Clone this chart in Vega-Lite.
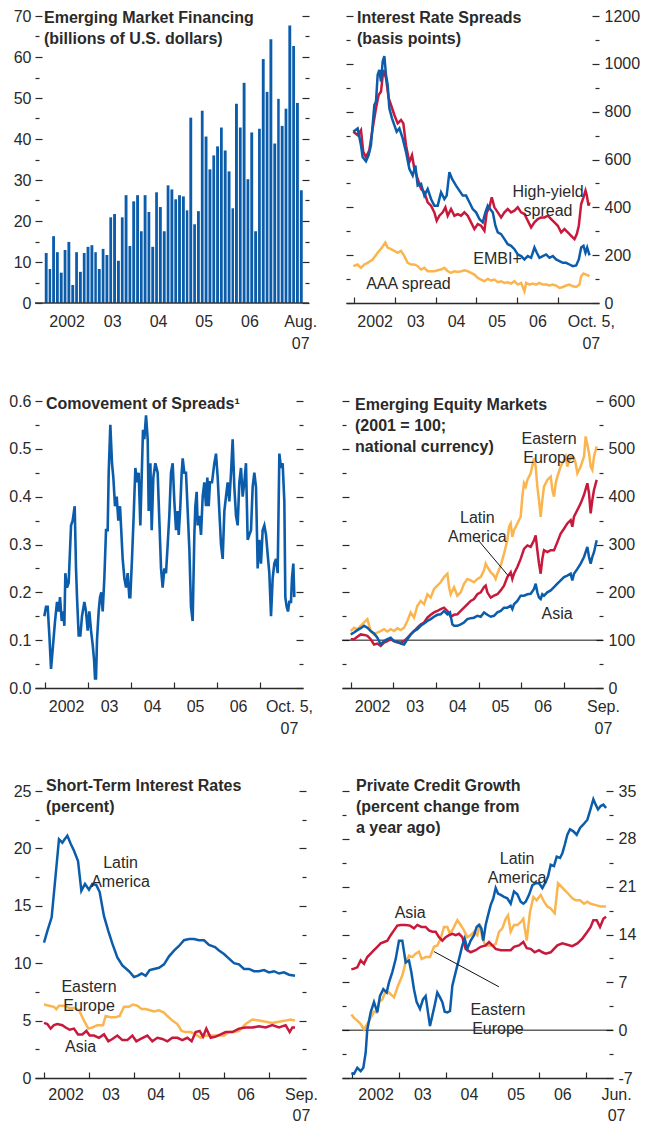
{
"$schema":"https://vega.github.io/schema/vega-lite/v6.json",
"padding":{"left":8,"top":8,"right":4,"bottom":0},
"config":{
 "view":{"stroke":null},
 "axis":{"labelFont":"Liberation Sans","labelFontSize":16,"labelColor":"#2a2a2a","tickColor":"#2a2a2a","tickWidth":1.2,"domainColor":"#2a2a2a","domainWidth":1.3,"grid":false,"labelFlush":false,"labelOverlap":false,"labelBound":false,"labelLineHeight":22},
 "title":{"font":"Liberation Sans","fontSize":16,"fontWeight":"bold","color":"#2a2a2a","anchor":"start","frame":"group","baseline":"top","offset":0,"lineHeight":21},
 "text":{"font":"Liberation Sans","fontSize":16,"color":"#2a2a2a","lineBreak":"\n","lineHeight":19}
},
"datasets":{
 "p1":[
 {"d":"2002-01-01","v":12.2},{"d":"2002-02-01","v":8.3},{"d":"2002-03-01","v":16.3},{"d":"2002-04-01","v":12.4},{"d":"2002-05-01","v":7.4},{"d":"2002-06-01","v":12.9},{"d":"2002-07-01","v":14.9},{"d":"2002-08-01","v":4.4},{"d":"2002-09-01","v":12.4},{"d":"2002-10-01","v":7.6},{"d":"2002-11-01","v":12.2},{"d":"2002-12-01","v":13.7},
 {"d":"2003-01-01","v":14.1},{"d":"2003-02-01","v":12.4},{"d":"2003-03-01","v":8.3},{"d":"2003-04-01","v":13.2},{"d":"2003-05-01","v":11.7},{"d":"2003-06-01","v":20.9},{"d":"2003-07-01","v":21.7},{"d":"2003-08-01","v":10.3},{"d":"2003-09-01","v":20.9},{"d":"2003-10-01","v":26.3},{"d":"2003-11-01","v":13.9},{"d":"2003-12-01","v":24.8},
 {"d":"2004-01-01","v":26.3},{"d":"2004-02-01","v":17.5},{"d":"2004-03-01","v":26.3},{"d":"2004-04-01","v":22.2},{"d":"2004-05-01","v":13.7},{"d":"2004-06-01","v":27.0},{"d":"2004-07-01","v":23.4},{"d":"2004-08-01","v":17.5},{"d":"2004-09-01","v":28.7},{"d":"2004-10-01","v":27.7},{"d":"2004-11-01","v":25.3},{"d":"2004-12-01","v":26.3},
 {"d":"2005-01-01","v":26.0},{"d":"2005-02-01","v":22.6},{"d":"2005-03-01","v":45.2},{"d":"2005-04-01","v":19.2},{"d":"2005-05-01","v":22.4},{"d":"2005-06-01","v":46.9},{"d":"2005-07-01","v":40.6},{"d":"2005-08-01","v":32.6},{"d":"2005-09-01","v":36.0},{"d":"2005-10-01","v":38.2},{"d":"2005-11-01","v":42.8},{"d":"2005-12-01","v":37.2},
 {"d":"2006-01-01","v":32.1},{"d":"2006-02-01","v":23.1},{"d":"2006-03-01","v":48.6},{"d":"2006-04-01","v":42.8},{"d":"2006-05-01","v":53.7},{"d":"2006-06-01","v":30.2},{"d":"2006-07-01","v":41.6},{"d":"2006-08-01","v":17.5},{"d":"2006-09-01","v":42.5},{"d":"2006-10-01","v":59.5},{"d":"2006-11-01","v":51.5},{"d":"2006-12-01","v":64.3},
 {"d":"2007-01-01","v":38.9},{"d":"2007-02-01","v":49.8},{"d":"2007-03-01","v":43.2},{"d":"2007-04-01","v":47.4},{"d":"2007-05-01","v":67.7},{"d":"2007-06-01","v":62.7},{"d":"2007-07-01","v":48.8},{"d":"2007-08-01","v":27.5}
 ],
 "p2":[
 {"s":"AAA","x":2001.975,"v":154},{"s":"AAA","x":2002.082,"v":161},{"s":"AAA","x":2002.164,"v":147},{"s":"AAA","x":2002.246,"v":161},{"s":"AAA","x":2002.328,"v":168},{"s":"AAA","x":2002.451,"v":182},{"s":"AAA","x":2002.574,"v":210},{"s":"AAA","x":2002.68,"v":232},{"s":"AAA","x":2002.762,"v":253},{"s":"AAA","x":2002.82,"v":232},{"s":"AAA","x":2002.902,"v":225},{"s":"AAA","x":2002.984,"v":218},{"s":"AAA","x":2003.066,"v":210},{"s":"AAA","x":2003.148,"v":218},{"s":"AAA","x":2003.23,"v":196},{"s":"AAA","x":2003.311,"v":168},{"s":"AAA","x":2003.393,"v":161},{"s":"AAA","x":2003.475,"v":161},{"s":"AAA","x":2003.557,"v":154},{"s":"AAA","x":2003.639,"v":140},{"s":"AAA","x":2003.721,"v":147},{"s":"AAA","x":2003.803,"v":133},{"s":"AAA","x":2003.885,"v":133},{"s":"AAA","x":2003.967,"v":133},{"s":"AAA","x":2004.049,"v":137},{"s":"AAA","x":2004.131,"v":140},{"s":"AAA","x":2004.213,"v":147},{"s":"AAA","x":2004.295,"v":133},{"s":"AAA","x":2004.377,"v":126},{"s":"AAA","x":2004.459,"v":133},{"s":"AAA","x":2004.541,"v":130},{"s":"AAA","x":2004.623,"v":133},{"s":"AAA","x":2004.705,"v":137},{"s":"AAA","x":2004.787,"v":133},{"s":"AAA","x":2004.869,"v":126},{"s":"AAA","x":2004.951,"v":119},{"s":"AAA","x":2005.033,"v":105},{"s":"AAA","x":2005.115,"v":98},{"s":"AAA","x":2005.197,"v":91},{"s":"AAA","x":2005.279,"v":101},{"s":"AAA","x":2005.361,"v":94},{"s":"AAA","x":2005.443,"v":98},{"s":"AAA","x":2005.525,"v":87},{"s":"AAA","x":2005.607,"v":91},{"s":"AAA","x":2005.689,"v":84},{"s":"AAA","x":2005.77,"v":87},{"s":"AAA","x":2005.852,"v":81},{"s":"AAA","x":2005.934,"v":91},{"s":"AAA","x":2006.016,"v":77},{"s":"AAA","x":2006.098,"v":84},{"s":"AAA","x":2006.18,"v":49},{"s":"AAA","x":2006.221,"v":84},{"s":"AAA","x":2006.303,"v":77},{"s":"AAA","x":2006.385,"v":81},{"s":"AAA","x":2006.467,"v":77},{"s":"AAA","x":2006.549,"v":84},{"s":"AAA","x":2006.631,"v":77},{"s":"AAA","x":2006.713,"v":77},{"s":"AAA","x":2006.795,"v":73},{"s":"AAA","x":2006.877,"v":77},{"s":"AAA","x":2006.959,"v":73},{"s":"AAA","x":2007.041,"v":63},{"s":"AAA","x":2007.123,"v":67},{"s":"AAA","x":2007.205,"v":73},{"s":"AAA","x":2007.287,"v":77},{"s":"AAA","x":2007.369,"v":70},{"s":"AAA","x":2007.451,"v":67},{"s":"AAA","x":2007.533,"v":77},{"s":"AAA","x":2007.574,"v":112},{"s":"AAA","x":2007.631,"v":123},{"s":"AAA","x":2007.697,"v":119},{"s":"AAA","x":2007.779,"v":112},
 {"s":"HY","x":2001.975,"v":716},{"s":"HY","x":2002.082,"v":702},{"s":"HY","x":2002.164,"v":723},{"s":"HY","x":2002.22,"v":632},{"s":"HY","x":2002.287,"v":610},{"s":"HY","x":2002.369,"v":639},{"s":"HY","x":2002.451,"v":730},{"s":"HY","x":2002.533,"v":814},{"s":"HY","x":2002.598,"v":870},{"s":"HY","x":2002.656,"v":884},{"s":"HY","x":2002.713,"v":975},{"s":"HY","x":2002.779,"v":940},{"s":"HY","x":2002.844,"v":856},{"s":"HY","x":2002.902,"v":828},{"s":"HY","x":2002.984,"v":786},{"s":"HY","x":2003.066,"v":751},{"s":"HY","x":2003.148,"v":765},{"s":"HY","x":2003.205,"v":751},{"s":"HY","x":2003.27,"v":660},{"s":"HY","x":2003.352,"v":589},{"s":"HY","x":2003.418,"v":618},{"s":"HY","x":2003.475,"v":561},{"s":"HY","x":2003.557,"v":519},{"s":"HY","x":2003.639,"v":477},{"s":"HY","x":2003.721,"v":463},{"s":"HY","x":2003.803,"v":421},{"s":"HY","x":2003.885,"v":407},{"s":"HY","x":2003.967,"v":379},{"s":"HY","x":2004.025,"v":344},{"s":"HY","x":2004.09,"v":365},{"s":"HY","x":2004.172,"v":379},{"s":"HY","x":2004.238,"v":400},{"s":"HY","x":2004.295,"v":365},{"s":"HY","x":2004.377,"v":393},{"s":"HY","x":2004.459,"v":365},{"s":"HY","x":2004.541,"v":372},{"s":"HY","x":2004.623,"v":365},{"s":"HY","x":2004.705,"v":379},{"s":"HY","x":2004.787,"v":365},{"s":"HY","x":2004.869,"v":337},{"s":"HY","x":2004.951,"v":309},{"s":"HY","x":2005.033,"v":330},{"s":"HY","x":2005.115,"v":323},{"s":"HY","x":2005.197,"v":302},{"s":"HY","x":2005.254,"v":379},{"s":"HY","x":2005.32,"v":400},{"s":"HY","x":2005.377,"v":442},{"s":"HY","x":2005.443,"v":400},{"s":"HY","x":2005.525,"v":379},{"s":"HY","x":2005.607,"v":358},{"s":"HY","x":2005.689,"v":379},{"s":"HY","x":2005.77,"v":393},{"s":"HY","x":2005.852,"v":379},{"s":"HY","x":2005.934,"v":386},{"s":"HY","x":2006.016,"v":400},{"s":"HY","x":2006.098,"v":379},{"s":"HY","x":2006.18,"v":372},{"s":"HY","x":2006.262,"v":344},{"s":"HY","x":2006.344,"v":316},{"s":"HY","x":2006.426,"v":337},{"s":"HY","x":2006.508,"v":351},{"s":"HY","x":2006.59,"v":358},{"s":"HY","x":2006.672,"v":358},{"s":"HY","x":2006.754,"v":365},{"s":"HY","x":2006.836,"v":351},{"s":"HY","x":2006.918,"v":337},{"s":"HY","x":2007.0,"v":323},{"s":"HY","x":2007.082,"v":295},{"s":"HY","x":2007.164,"v":309},{"s":"HY","x":2007.246,"v":295},{"s":"HY","x":2007.328,"v":281},{"s":"HY","x":2007.41,"v":267},{"s":"HY","x":2007.467,"v":288},{"s":"HY","x":2007.516,"v":323},{"s":"HY","x":2007.574,"v":414},{"s":"HY","x":2007.631,"v":442},{"s":"HY","x":2007.68,"v":470},{"s":"HY","x":2007.713,"v":449},{"s":"HY","x":2007.754,"v":407},{"s":"HY","x":2007.779,"v":421},
 {"s":"EMBI","x":2001.975,"v":716},{"s":"EMBI","x":2002.082,"v":730},{"s":"EMBI","x":2002.164,"v":660},{"s":"EMBI","x":2002.205,"v":610},{"s":"EMBI","x":2002.287,"v":592},{"s":"EMBI","x":2002.352,"v":618},{"s":"EMBI","x":2002.41,"v":660},{"s":"EMBI","x":2002.451,"v":744},{"s":"EMBI","x":2002.492,"v":828},{"s":"EMBI","x":2002.533,"v":842},{"s":"EMBI","x":2002.574,"v":954},{"s":"EMBI","x":2002.615,"v":975},{"s":"EMBI","x":2002.656,"v":926},{"s":"EMBI","x":2002.697,"v":1010},{"s":"EMBI","x":2002.738,"v":1032},{"s":"EMBI","x":2002.779,"v":954},{"s":"EMBI","x":2002.82,"v":912},{"s":"EMBI","x":2002.861,"v":814},{"s":"EMBI","x":2002.926,"v":772},{"s":"EMBI","x":2002.984,"v":744},{"s":"EMBI","x":2003.041,"v":716},{"s":"EMBI","x":2003.107,"v":730},{"s":"EMBI","x":2003.189,"v":688},{"s":"EMBI","x":2003.27,"v":632},{"s":"EMBI","x":2003.352,"v":561},{"s":"EMBI","x":2003.434,"v":533},{"s":"EMBI","x":2003.5,"v":575},{"s":"EMBI","x":2003.557,"v":491},{"s":"EMBI","x":2003.639,"v":498},{"s":"EMBI","x":2003.721,"v":449},{"s":"EMBI","x":2003.803,"v":477},{"s":"EMBI","x":2003.885,"v":435},{"s":"EMBI","x":2003.967,"v":407},{"s":"EMBI","x":2004.049,"v":407},{"s":"EMBI","x":2004.131,"v":463},{"s":"EMBI","x":2004.213,"v":435},{"s":"EMBI","x":2004.27,"v":449},{"s":"EMBI","x":2004.336,"v":547},{"s":"EMBI","x":2004.402,"v":519},{"s":"EMBI","x":2004.5,"v":491},{"s":"EMBI","x":2004.582,"v":470},{"s":"EMBI","x":2004.664,"v":449},{"s":"EMBI","x":2004.746,"v":449},{"s":"EMBI","x":2004.828,"v":421},{"s":"EMBI","x":2004.91,"v":393},{"s":"EMBI","x":2004.992,"v":379},{"s":"EMBI","x":2005.074,"v":351},{"s":"EMBI","x":2005.156,"v":337},{"s":"EMBI","x":2005.221,"v":379},{"s":"EMBI","x":2005.279,"v":407},{"s":"EMBI","x":2005.336,"v":393},{"s":"EMBI","x":2005.402,"v":379},{"s":"EMBI","x":2005.467,"v":323},{"s":"EMBI","x":2005.525,"v":295},{"s":"EMBI","x":2005.607,"v":288},{"s":"EMBI","x":2005.689,"v":267},{"s":"EMBI","x":2005.77,"v":246},{"s":"EMBI","x":2005.852,"v":239},{"s":"EMBI","x":2005.934,"v":225},{"s":"EMBI","x":2006.016,"v":203},{"s":"EMBI","x":2006.098,"v":196},{"s":"EMBI","x":2006.18,"v":182},{"s":"EMBI","x":2006.262,"v":196},{"s":"EMBI","x":2006.344,"v":189},{"s":"EMBI","x":2006.426,"v":232},{"s":"EMBI","x":2006.484,"v":210},{"s":"EMBI","x":2006.549,"v":189},{"s":"EMBI","x":2006.631,"v":196},{"s":"EMBI","x":2006.713,"v":203},{"s":"EMBI","x":2006.795,"v":189},{"s":"EMBI","x":2006.877,"v":196},{"s":"EMBI","x":2006.959,"v":182},{"s":"EMBI","x":2007.041,"v":175},{"s":"EMBI","x":2007.123,"v":168},{"s":"EMBI","x":2007.205,"v":168},{"s":"EMBI","x":2007.287,"v":161},{"s":"EMBI","x":2007.369,"v":154},{"s":"EMBI","x":2007.451,"v":157},{"s":"EMBI","x":2007.516,"v":182},{"s":"EMBI","x":2007.574,"v":232},{"s":"EMBI","x":2007.631,"v":239},{"s":"EMBI","x":2007.68,"v":210},{"s":"EMBI","x":2007.721,"v":232},{"s":"EMBI","x":2007.779,"v":199}
 ],
 "p3":[
 {"x":2001.984,"v":0.15},{"x":2002.023,"v":0.17},{"x":2002.062,"v":0.17},{"x":2002.101,"v":0.11},{"x":2002.14,"v":0.04},{"x":2002.178,"v":0.08},{"x":2002.233,"v":0.14},{"x":2002.279,"v":0.18},{"x":2002.318,"v":0.16},{"x":2002.349,"v":0.19},{"x":2002.388,"v":0.14},{"x":2002.426,"v":0.16},{"x":2002.45,"v":0.13},{"x":2002.473,"v":0.24},{"x":2002.512,"v":0.21},{"x":2002.55,"v":0.22},{"x":2002.605,"v":0.34},{"x":2002.643,"v":0.35},{"x":2002.69,"v":0.38},{"x":2002.721,"v":0.25},{"x":2002.744,"v":0.19},{"x":2002.783,"v":0.11},{"x":2002.822,"v":0.11},{"x":2002.86,"v":0.15},{"x":2002.915,"v":0.18},{"x":2002.953,"v":0.16},{"x":2002.992,"v":0.12},{"x":2003.031,"v":0.16},{"x":2003.07,"v":0.12},{"x":2003.109,"v":0.09},{"x":2003.14,"v":0.06},{"x":2003.163,"v":0.02},{"x":2003.186,"v":0.02},{"x":2003.209,"v":0.1},{"x":2003.248,"v":0.16},{"x":2003.279,"v":0.19},{"x":2003.31,"v":0.2},{"x":2003.341,"v":0.16},{"x":2003.38,"v":0.23},{"x":2003.419,"v":0.33},{"x":2003.457,"v":0.33},{"x":2003.481,"v":0.45},{"x":2003.519,"v":0.55},{"x":2003.558,"v":0.47},{"x":2003.589,"v":0.44},{"x":2003.628,"v":0.38},{"x":2003.667,"v":0.4},{"x":2003.705,"v":0.35},{"x":2003.744,"v":0.38},{"x":2003.767,"v":0.34},{"x":2003.806,"v":0.27},{"x":2003.845,"v":0.23},{"x":2003.884,"v":0.21},{"x":2003.922,"v":0.24},{"x":2003.961,"v":0.19},{"x":2003.984,"v":0.19},{"x":2004.023,"v":0.27},{"x":2004.062,"v":0.36},{"x":2004.101,"v":0.46},{"x":2004.14,"v":0.43},{"x":2004.178,"v":0.45},{"x":2004.217,"v":0.34},{"x":2004.248,"v":0.44},{"x":2004.279,"v":0.54},{"x":2004.31,"v":0.52},{"x":2004.349,"v":0.57},{"x":2004.388,"v":0.52},{"x":2004.411,"v":0.37},{"x":2004.45,"v":0.47},{"x":2004.481,"v":0.33},{"x":2004.519,"v":0.44},{"x":2004.566,"v":0.47},{"x":2004.62,"v":0.45},{"x":2004.659,"v":0.35},{"x":2004.698,"v":0.25},{"x":2004.736,"v":0.21},{"x":2004.775,"v":0.25},{"x":2004.814,"v":0.24},{"x":2004.853,"v":0.3},{"x":2004.891,"v":0.36},{"x":2004.93,"v":0.45},{"x":2004.969,"v":0.47},{"x":2005.008,"v":0.39},{"x":2005.047,"v":0.33},{"x":2005.085,"v":0.37},{"x":2005.109,"v":0.32},{"x":2005.147,"v":0.38},{"x":2005.178,"v":0.45},{"x":2005.202,"v":0.48},{"x":2005.24,"v":0.45},{"x":2005.279,"v":0.45},{"x":2005.318,"v":0.37},{"x":2005.357,"v":0.29},{"x":2005.395,"v":0.17},{"x":2005.434,"v":0.14},{"x":2005.473,"v":0.32},{"x":2005.496,"v":0.38},{"x":2005.527,"v":0.41},{"x":2005.55,"v":0.34},{"x":2005.589,"v":0.36},{"x":2005.628,"v":0.32},{"x":2005.667,"v":0.4},{"x":2005.705,"v":0.43},{"x":2005.744,"v":0.38},{"x":2005.775,"v":0.44},{"x":2005.806,"v":0.38},{"x":2005.837,"v":0.43},{"x":2005.884,"v":0.43},{"x":2005.938,"v":0.47},{"x":2005.977,"v":0.49},{"x":2006.016,"v":0.44},{"x":2006.054,"v":0.37},{"x":2006.093,"v":0.3},{"x":2006.132,"v":0.27},{"x":2006.171,"v":0.37},{"x":2006.209,"v":0.4},{"x":2006.248,"v":0.43},{"x":2006.287,"v":0.39},{"x":2006.326,"v":0.45},{"x":2006.364,"v":0.52},{"x":2006.403,"v":0.42},{"x":2006.442,"v":0.36},{"x":2006.481,"v":0.34},{"x":2006.519,"v":0.43},{"x":2006.558,"v":0.46},{"x":2006.597,"v":0.4},{"x":2006.636,"v":0.43},{"x":2006.674,"v":0.47},{"x":2006.713,"v":0.31},{"x":2006.752,"v":0.32},{"x":2006.791,"v":0.33},{"x":2006.829,"v":0.42},{"x":2006.868,"v":0.45},{"x":2006.907,"v":0.42},{"x":2006.946,"v":0.25},{"x":2006.984,"v":0.31},{"x":2007.023,"v":0.26},{"x":2007.062,"v":0.33},{"x":2007.101,"v":0.34},{"x":2007.14,"v":0.32},{"x":2007.178,"v":0.28},{"x":2007.217,"v":0.24},{"x":2007.256,"v":0.15},{"x":2007.295,"v":0.23},{"x":2007.333,"v":0.26},{"x":2007.372,"v":0.27},{"x":2007.411,"v":0.24},{"x":2007.45,"v":0.49},{"x":2007.488,"v":0.46},{"x":2007.527,"v":0.47},{"x":2007.566,"v":0.39},{"x":2007.589,"v":0.19},{"x":2007.62,"v":0.17},{"x":2007.651,"v":0.16},{"x":2007.682,"v":0.18},{"x":2007.721,"v":0.18},{"x":2007.744,"v":0.23},{"x":2007.775,"v":0.26},{"x":2007.798,"v":0.19}
 ],
 "p4":[
 {"s":"EastEu","x":2002.0,"v":119},{"s":"EastEu","x":2002.078,"v":126},{"s":"EastEu","x":2002.156,"v":123},{"s":"EastEu","x":2002.234,"v":130},{"s":"EastEu","x":2002.313,"v":137},{"s":"EastEu","x":2002.391,"v":144},{"s":"EastEu","x":2002.469,"v":119},{"s":"EastEu","x":2002.547,"v":112},{"s":"EastEu","x":2002.625,"v":116},{"s":"EastEu","x":2002.703,"v":119},{"s":"EastEu","x":2002.781,"v":123},{"s":"EastEu","x":2002.859,"v":118},{"s":"EastEu","x":2002.938,"v":123},{"s":"EastEu","x":2003.016,"v":119},{"s":"EastEu","x":2003.094,"v":125},{"s":"EastEu","x":2003.172,"v":121},{"s":"EastEu","x":2003.25,"v":126},{"s":"EastEu","x":2003.328,"v":140},{"s":"EastEu","x":2003.406,"v":158},{"s":"EastEu","x":2003.484,"v":147},{"s":"EastEu","x":2003.563,"v":172},{"s":"EastEu","x":2003.641,"v":182},{"s":"EastEu","x":2003.719,"v":175},{"s":"EastEu","x":2003.797,"v":196},{"s":"EastEu","x":2003.875,"v":189},{"s":"EastEu","x":2003.953,"v":207},{"s":"EastEu","x":2004.031,"v":214},{"s":"EastEu","x":2004.109,"v":221},{"s":"EastEu","x":2004.188,"v":232},{"s":"EastEu","x":2004.266,"v":239},{"s":"EastEu","x":2004.305,"v":211},{"s":"EastEu","x":2004.344,"v":196},{"s":"EastEu","x":2004.422,"v":211},{"s":"EastEu","x":2004.5,"v":193},{"s":"EastEu","x":2004.578,"v":200},{"s":"EastEu","x":2004.656,"v":218},{"s":"EastEu","x":2004.734,"v":228},{"s":"EastEu","x":2004.813,"v":225},{"s":"EastEu","x":2004.891,"v":221},{"s":"EastEu","x":2004.969,"v":228},{"s":"EastEu","x":2005.047,"v":232},{"s":"EastEu","x":2005.125,"v":246},{"s":"EastEu","x":2005.164,"v":260},{"s":"EastEu","x":2005.203,"v":253},{"s":"EastEu","x":2005.281,"v":242},{"s":"EastEu","x":2005.359,"v":235},{"s":"EastEu","x":2005.398,"v":228},{"s":"EastEu","x":2005.438,"v":239},{"s":"EastEu","x":2005.516,"v":256},{"s":"EastEu","x":2005.594,"v":281},{"s":"EastEu","x":2005.672,"v":309},{"s":"EastEu","x":2005.711,"v":337},{"s":"EastEu","x":2005.75,"v":344},{"s":"EastEu","x":2005.789,"v":316},{"s":"EastEu","x":2005.828,"v":330},{"s":"EastEu","x":2005.906,"v":344},{"s":"EastEu","x":2005.984,"v":358},{"s":"EastEu","x":2006.023,"v":400},{"s":"EastEu","x":2006.063,"v":428},{"s":"EastEu","x":2006.102,"v":421},{"s":"EastEu","x":2006.141,"v":435},{"s":"EastEu","x":2006.219,"v":449},{"s":"EastEu","x":2006.297,"v":481},{"s":"EastEu","x":2006.336,"v":463},{"s":"EastEu","x":2006.375,"v":421},{"s":"EastEu","x":2006.414,"v":393},{"s":"EastEu","x":2006.453,"v":358},{"s":"EastEu","x":2006.492,"v":393},{"s":"EastEu","x":2006.531,"v":421},{"s":"EastEu","x":2006.609,"v":435},{"s":"EastEu","x":2006.688,"v":442},{"s":"EastEu","x":2006.727,"v":414},{"s":"EastEu","x":2006.766,"v":400},{"s":"EastEu","x":2006.805,"v":428},{"s":"EastEu","x":2006.844,"v":442},{"s":"EastEu","x":2006.922,"v":463},{"s":"EastEu","x":2007.0,"v":477},{"s":"EastEu","x":2007.039,"v":484},{"s":"EastEu","x":2007.078,"v":463},{"s":"EastEu","x":2007.156,"v":484},{"s":"EastEu","x":2007.234,"v":481},{"s":"EastEu","x":2007.273,"v":470},{"s":"EastEu","x":2007.313,"v":449},{"s":"EastEu","x":2007.391,"v":463},{"s":"EastEu","x":2007.469,"v":484},{"s":"EastEu","x":2007.508,"v":526},{"s":"EastEu","x":2007.547,"v":509},{"s":"EastEu","x":2007.586,"v":491},{"s":"EastEu","x":2007.625,"v":463},{"s":"EastEu","x":2007.664,"v":456},{"s":"EastEu","x":2007.703,"v":484},{"s":"EastEu","x":2007.766,"v":505},
 {"s":"LatAm","x":2002.0,"v":102},{"s":"LatAm","x":2002.078,"v":102},{"s":"LatAm","x":2002.156,"v":107},{"s":"LatAm","x":2002.234,"v":112},{"s":"LatAm","x":2002.313,"v":111},{"s":"LatAm","x":2002.391,"v":109},{"s":"LatAm","x":2002.469,"v":102},{"s":"LatAm","x":2002.547,"v":91},{"s":"LatAm","x":2002.625,"v":93},{"s":"LatAm","x":2002.703,"v":88},{"s":"LatAm","x":2002.781,"v":95},{"s":"LatAm","x":2002.859,"v":98},{"s":"LatAm","x":2002.938,"v":102},{"s":"LatAm","x":2003.016,"v":98},{"s":"LatAm","x":2003.094,"v":95},{"s":"LatAm","x":2003.172,"v":95},{"s":"LatAm","x":2003.25,"v":98},{"s":"LatAm","x":2003.328,"v":105},{"s":"LatAm","x":2003.406,"v":112},{"s":"LatAm","x":2003.484,"v":119},{"s":"LatAm","x":2003.563,"v":126},{"s":"LatAm","x":2003.641,"v":133},{"s":"LatAm","x":2003.719,"v":137},{"s":"LatAm","x":2003.797,"v":147},{"s":"LatAm","x":2003.875,"v":153},{"s":"LatAm","x":2003.953,"v":158},{"s":"LatAm","x":2004.031,"v":161},{"s":"LatAm","x":2004.109,"v":165},{"s":"LatAm","x":2004.188,"v":168},{"s":"LatAm","x":2004.266,"v":161},{"s":"LatAm","x":2004.344,"v":149},{"s":"LatAm","x":2004.422,"v":153},{"s":"LatAm","x":2004.5,"v":154},{"s":"LatAm","x":2004.578,"v":161},{"s":"LatAm","x":2004.656,"v":168},{"s":"LatAm","x":2004.734,"v":175},{"s":"LatAm","x":2004.813,"v":182},{"s":"LatAm","x":2004.891,"v":186},{"s":"LatAm","x":2004.969,"v":196},{"s":"LatAm","x":2005.047,"v":200},{"s":"LatAm","x":2005.125,"v":211},{"s":"LatAm","x":2005.164,"v":214},{"s":"LatAm","x":2005.203,"v":200},{"s":"LatAm","x":2005.281,"v":189},{"s":"LatAm","x":2005.359,"v":193},{"s":"LatAm","x":2005.438,"v":196},{"s":"LatAm","x":2005.516,"v":204},{"s":"LatAm","x":2005.594,"v":214},{"s":"LatAm","x":2005.672,"v":232},{"s":"LatAm","x":2005.75,"v":242},{"s":"LatAm","x":2005.789,"v":228},{"s":"LatAm","x":2005.828,"v":239},{"s":"LatAm","x":2005.906,"v":253},{"s":"LatAm","x":2005.984,"v":270},{"s":"LatAm","x":2006.063,"v":291},{"s":"LatAm","x":2006.141,"v":298},{"s":"LatAm","x":2006.219,"v":295},{"s":"LatAm","x":2006.297,"v":309},{"s":"LatAm","x":2006.336,"v":319},{"s":"LatAm","x":2006.375,"v":288},{"s":"LatAm","x":2006.414,"v":260},{"s":"LatAm","x":2006.453,"v":239},{"s":"LatAm","x":2006.492,"v":270},{"s":"LatAm","x":2006.531,"v":288},{"s":"LatAm","x":2006.609,"v":284},{"s":"LatAm","x":2006.688,"v":288},{"s":"LatAm","x":2006.766,"v":288},{"s":"LatAm","x":2006.844,"v":305},{"s":"LatAm","x":2006.922,"v":323},{"s":"LatAm","x":2007.0,"v":333},{"s":"LatAm","x":2007.078,"v":344},{"s":"LatAm","x":2007.156,"v":351},{"s":"LatAm","x":2007.195,"v":337},{"s":"LatAm","x":2007.234,"v":358},{"s":"LatAm","x":2007.313,"v":372},{"s":"LatAm","x":2007.391,"v":386},{"s":"LatAm","x":2007.469,"v":404},{"s":"LatAm","x":2007.547,"v":428},{"s":"LatAm","x":2007.586,"v":407},{"s":"LatAm","x":2007.625,"v":365},{"s":"LatAm","x":2007.664,"v":393},{"s":"LatAm","x":2007.703,"v":414},{"s":"LatAm","x":2007.766,"v":435},
 {"s":"Asia","x":2002.0,"v":112},{"s":"Asia","x":2002.078,"v":116},{"s":"Asia","x":2002.156,"v":121},{"s":"Asia","x":2002.234,"v":125},{"s":"Asia","x":2002.313,"v":130},{"s":"Asia","x":2002.391,"v":126},{"s":"Asia","x":2002.469,"v":119},{"s":"Asia","x":2002.547,"v":114},{"s":"Asia","x":2002.625,"v":105},{"s":"Asia","x":2002.703,"v":91},{"s":"Asia","x":2002.781,"v":98},{"s":"Asia","x":2002.859,"v":102},{"s":"Asia","x":2002.938,"v":105},{"s":"Asia","x":2003.016,"v":98},{"s":"Asia","x":2003.094,"v":97},{"s":"Asia","x":2003.172,"v":93},{"s":"Asia","x":2003.25,"v":91},{"s":"Asia","x":2003.328,"v":102},{"s":"Asia","x":2003.406,"v":112},{"s":"Asia","x":2003.484,"v":119},{"s":"Asia","x":2003.563,"v":123},{"s":"Asia","x":2003.641,"v":130},{"s":"Asia","x":2003.719,"v":135},{"s":"Asia","x":2003.797,"v":140},{"s":"Asia","x":2003.875,"v":144},{"s":"Asia","x":2003.953,"v":149},{"s":"Asia","x":2004.031,"v":153},{"s":"Asia","x":2004.109,"v":154},{"s":"Asia","x":2004.188,"v":161},{"s":"Asia","x":2004.266,"v":154},{"s":"Asia","x":2004.328,"v":158},{"s":"Asia","x":2004.383,"v":133},{"s":"Asia","x":2004.422,"v":130},{"s":"Asia","x":2004.5,"v":130},{"s":"Asia","x":2004.578,"v":133},{"s":"Asia","x":2004.656,"v":137},{"s":"Asia","x":2004.734,"v":144},{"s":"Asia","x":2004.813,"v":146},{"s":"Asia","x":2004.891,"v":147},{"s":"Asia","x":2004.969,"v":151},{"s":"Asia","x":2005.047,"v":149},{"s":"Asia","x":2005.125,"v":158},{"s":"Asia","x":2005.203,"v":153},{"s":"Asia","x":2005.281,"v":149},{"s":"Asia","x":2005.359,"v":151},{"s":"Asia","x":2005.438,"v":158},{"s":"Asia","x":2005.516,"v":161},{"s":"Asia","x":2005.594,"v":168},{"s":"Asia","x":2005.672,"v":168},{"s":"Asia","x":2005.75,"v":172},{"s":"Asia","x":2005.789,"v":165},{"s":"Asia","x":2005.828,"v":175},{"s":"Asia","x":2005.906,"v":182},{"s":"Asia","x":2005.984,"v":193},{"s":"Asia","x":2006.063,"v":193},{"s":"Asia","x":2006.141,"v":196},{"s":"Asia","x":2006.219,"v":197},{"s":"Asia","x":2006.297,"v":207},{"s":"Asia","x":2006.336,"v":218},{"s":"Asia","x":2006.375,"v":200},{"s":"Asia","x":2006.414,"v":189},{"s":"Asia","x":2006.453,"v":186},{"s":"Asia","x":2006.492,"v":196},{"s":"Asia","x":2006.531,"v":193},{"s":"Asia","x":2006.609,"v":200},{"s":"Asia","x":2006.688,"v":204},{"s":"Asia","x":2006.766,"v":211},{"s":"Asia","x":2006.844,"v":218},{"s":"Asia","x":2006.922,"v":225},{"s":"Asia","x":2007.0,"v":232},{"s":"Asia","x":2007.078,"v":235},{"s":"Asia","x":2007.156,"v":239},{"s":"Asia","x":2007.195,"v":225},{"s":"Asia","x":2007.234,"v":239},{"s":"Asia","x":2007.313,"v":249},{"s":"Asia","x":2007.391,"v":260},{"s":"Asia","x":2007.469,"v":274},{"s":"Asia","x":2007.547,"v":295},{"s":"Asia","x":2007.586,"v":274},{"s":"Asia","x":2007.625,"v":260},{"s":"Asia","x":2007.664,"v":274},{"s":"Asia","x":2007.703,"v":284},{"s":"Asia","x":2007.766,"v":309}
 ],
 "p5":[
 {"s":"EastEu","x":2002.0,"v":6.4},{"s":"EastEu","x":2002.111,"v":6.3},{"s":"EastEu","x":2002.222,"v":6.2},{"s":"EastEu","x":2002.274,"v":6.0},{"s":"EastEu","x":2002.333,"v":6.3},{"s":"EastEu","x":2002.444,"v":6.3},{"s":"EastEu","x":2002.556,"v":6.1},{"s":"EastEu","x":2002.667,"v":6.1},{"s":"EastEu","x":2002.778,"v":5.9},{"s":"EastEu","x":2002.889,"v":5.0},{"s":"EastEu","x":2002.985,"v":4.3},{"s":"EastEu","x":2003.074,"v":4.4},{"s":"EastEu","x":2003.185,"v":4.6},{"s":"EastEu","x":2003.311,"v":4.6},{"s":"EastEu","x":2003.37,"v":5.4},{"s":"EastEu","x":2003.481,"v":5.3},{"s":"EastEu","x":2003.593,"v":5.3},{"s":"EastEu","x":2003.681,"v":5.4},{"s":"EastEu","x":2003.778,"v":6.2},{"s":"EastEu","x":2003.889,"v":6.2},{"s":"EastEu","x":2003.978,"v":6.4},{"s":"EastEu","x":2004.074,"v":6.3},{"s":"EastEu","x":2004.17,"v":6.0},{"s":"EastEu","x":2004.259,"v":6.0},{"s":"EastEu","x":2004.348,"v":5.9},{"s":"EastEu","x":2004.444,"v":5.8},{"s":"EastEu","x":2004.556,"v":5.9},{"s":"EastEu","x":2004.667,"v":5.7},{"s":"EastEu","x":2004.741,"v":5.4},{"s":"EastEu","x":2004.852,"v":5.0},{"s":"EastEu","x":2004.963,"v":4.7},{"s":"EastEu","x":2005.059,"v":4.1},{"s":"EastEu","x":2005.148,"v":4.0},{"s":"EastEu","x":2005.259,"v":4.0},{"s":"EastEu","x":2005.37,"v":3.8},{"s":"EastEu","x":2005.481,"v":3.5},{"s":"EastEu","x":2005.593,"v":3.7},{"s":"EastEu","x":2005.741,"v":3.7},{"s":"EastEu","x":2005.889,"v":3.7},{"s":"EastEu","x":2006.0,"v":3.7},{"s":"EastEu","x":2006.111,"v":4.0},{"s":"EastEu","x":2006.222,"v":4.0},{"s":"EastEu","x":2006.333,"v":4.1},{"s":"EastEu","x":2006.481,"v":4.7},{"s":"EastEu","x":2006.63,"v":5.1},{"s":"EastEu","x":2006.778,"v":5.0},{"s":"EastEu","x":2006.926,"v":4.9},{"s":"EastEu","x":2007.074,"v":4.8},{"s":"EastEu","x":2007.222,"v":4.9},{"s":"EastEu","x":2007.37,"v":5.0},{"s":"EastEu","x":2007.481,"v":5.1},{"s":"EastEu","x":2007.578,"v":5.0},
 {"s":"Asia","x":2002.0,"v":4.8},{"s":"Asia","x":2002.074,"v":4.7},{"s":"Asia","x":2002.148,"v":4.3},{"s":"Asia","x":2002.222,"v":4.6},{"s":"Asia","x":2002.296,"v":4.7},{"s":"Asia","x":2002.407,"v":4.6},{"s":"Asia","x":2002.481,"v":4.4},{"s":"Asia","x":2002.57,"v":4.2},{"s":"Asia","x":2002.667,"v":4.3},{"s":"Asia","x":2002.756,"v":3.8},{"s":"Asia","x":2002.852,"v":3.8},{"s":"Asia","x":2002.941,"v":4.1},{"s":"Asia","x":2003.015,"v":3.7},{"s":"Asia","x":2003.111,"v":3.7},{"s":"Asia","x":2003.222,"v":3.5},{"s":"Asia","x":2003.333,"v":3.8},{"s":"Asia","x":2003.43,"v":3.2},{"s":"Asia","x":2003.519,"v":3.4},{"s":"Asia","x":2003.63,"v":3.7},{"s":"Asia","x":2003.741,"v":3.3},{"s":"Asia","x":2003.852,"v":3.3},{"s":"Asia","x":2003.963,"v":3.7},{"s":"Asia","x":2004.052,"v":3.2},{"s":"Asia","x":2004.148,"v":3.4},{"s":"Asia","x":2004.296,"v":3.7},{"s":"Asia","x":2004.407,"v":3.2},{"s":"Asia","x":2004.519,"v":3.5},{"s":"Asia","x":2004.63,"v":3.4},{"s":"Asia","x":2004.741,"v":3.2},{"s":"Asia","x":2004.852,"v":3.5},{"s":"Asia","x":2004.963,"v":3.5},{"s":"Asia","x":2005.074,"v":3.3},{"s":"Asia","x":2005.185,"v":3.5},{"s":"Asia","x":2005.281,"v":3.2},{"s":"Asia","x":2005.37,"v":4.0},{"s":"Asia","x":2005.459,"v":4.1},{"s":"Asia","x":2005.533,"v":3.6},{"s":"Asia","x":2005.607,"v":4.3},{"s":"Asia","x":2005.704,"v":3.5},{"s":"Asia","x":2005.815,"v":3.6},{"s":"Asia","x":2005.926,"v":3.8},{"s":"Asia","x":2006.037,"v":4.0},{"s":"Asia","x":2006.185,"v":4.0},{"s":"Asia","x":2006.333,"v":4.3},{"s":"Asia","x":2006.481,"v":4.4},{"s":"Asia","x":2006.63,"v":4.4},{"s":"Asia","x":2006.778,"v":4.5},{"s":"Asia","x":2006.926,"v":4.4},{"s":"Asia","x":2007.074,"v":4.6},{"s":"Asia","x":2007.222,"v":4.4},{"s":"Asia","x":2007.37,"v":4.6},{"s":"Asia","x":2007.459,"v":4.0},{"s":"Asia","x":2007.519,"v":4.4},{"s":"Asia","x":2007.578,"v":4.4},
 {"s":"LatAm","x":2002.0,"v":11.8},{"s":"LatAm","x":2002.074,"v":12.8},{"s":"LatAm","x":2002.17,"v":14.0},{"s":"LatAm","x":2002.259,"v":17.7},{"s":"LatAm","x":2002.333,"v":20.8},{"s":"LatAm","x":2002.407,"v":20.5},{"s":"LatAm","x":2002.459,"v":20.8},{"s":"LatAm","x":2002.519,"v":21.1},{"s":"LatAm","x":2002.593,"v":20.4},{"s":"LatAm","x":2002.667,"v":19.8},{"s":"LatAm","x":2002.756,"v":18.9},{"s":"LatAm","x":2002.83,"v":16.3},{"s":"LatAm","x":2002.911,"v":16.9},{"s":"LatAm","x":2003.0,"v":16.4},{"s":"LatAm","x":2003.074,"v":16.9},{"s":"LatAm","x":2003.163,"v":16.8},{"s":"LatAm","x":2003.237,"v":16.2},{"s":"LatAm","x":2003.333,"v":14.1},{"s":"LatAm","x":2003.43,"v":12.8},{"s":"LatAm","x":2003.519,"v":11.7},{"s":"LatAm","x":2003.63,"v":10.5},{"s":"LatAm","x":2003.741,"v":9.8},{"s":"LatAm","x":2003.889,"v":9.3},{"s":"LatAm","x":2004.0,"v":8.8},{"s":"LatAm","x":2004.074,"v":8.9},{"s":"LatAm","x":2004.17,"v":9.1},{"s":"LatAm","x":2004.259,"v":8.9},{"s":"LatAm","x":2004.348,"v":9.4},{"s":"LatAm","x":2004.444,"v":9.5},{"s":"LatAm","x":2004.556,"v":9.6},{"s":"LatAm","x":2004.667,"v":9.9},{"s":"LatAm","x":2004.778,"v":10.6},{"s":"LatAm","x":2004.889,"v":11.1},{"s":"LatAm","x":2005.0,"v":11.5},{"s":"LatAm","x":2005.111,"v":12.0},{"s":"LatAm","x":2005.222,"v":12.1},{"s":"LatAm","x":2005.333,"v":12.1},{"s":"LatAm","x":2005.444,"v":12.0},{"s":"LatAm","x":2005.556,"v":12.0},{"s":"LatAm","x":2005.667,"v":11.6},{"s":"LatAm","x":2005.8,"v":11.4},{"s":"LatAm","x":2005.889,"v":11.1},{"s":"LatAm","x":2006.0,"v":10.8},{"s":"LatAm","x":2006.111,"v":10.4},{"s":"LatAm","x":2006.222,"v":10.0},{"s":"LatAm","x":2006.333,"v":9.9},{"s":"LatAm","x":2006.444,"v":9.5},{"s":"LatAm","x":2006.556,"v":9.5},{"s":"LatAm","x":2006.667,"v":9.3},{"s":"LatAm","x":2006.778,"v":9.3},{"s":"LatAm","x":2006.889,"v":9.4},{"s":"LatAm","x":2007.0,"v":9.2},{"s":"LatAm","x":2007.111,"v":9.3},{"s":"LatAm","x":2007.222,"v":9.1},{"s":"LatAm","x":2007.333,"v":9.2},{"s":"LatAm","x":2007.444,"v":9.0},{"s":"LatAm","x":2007.578,"v":8.9}
 ],
 "p6":[
 {"s":"EastEu","x":2001.979,"v":2.3},{"s":"EastEu","x":2002.036,"v":1.8},{"s":"EastEu","x":2002.107,"v":1.4},{"s":"EastEu","x":2002.179,"v":0.9},{"s":"EastEu","x":2002.25,"v":0.1},{"s":"EastEu","x":2002.321,"v":0.9},{"s":"EastEu","x":2002.393,"v":1.8},{"s":"EastEu","x":2002.464,"v":2.7},{"s":"EastEu","x":2002.521,"v":2.6},{"s":"EastEu","x":2002.571,"v":4.1},{"s":"EastEu","x":2002.643,"v":4.5},{"s":"EastEu","x":2002.714,"v":5.7},{"s":"EastEu","x":2002.786,"v":5.5},{"s":"EastEu","x":2002.893,"v":4.8},{"s":"EastEu","x":2002.979,"v":6.5},{"s":"EastEu","x":2003.071,"v":8.0},{"s":"EastEu","x":2003.143,"v":9.9},{"s":"EastEu","x":2003.214,"v":10.9},{"s":"EastEu","x":2003.286,"v":10.7},{"s":"EastEu","x":2003.357,"v":11.2},{"s":"EastEu","x":2003.429,"v":11.5},{"s":"EastEu","x":2003.486,"v":10.4},{"s":"EastEu","x":2003.571,"v":10.7},{"s":"EastEu","x":2003.664,"v":10.7},{"s":"EastEu","x":2003.75,"v":12.2},{"s":"EastEu","x":2003.821,"v":12.4},{"s":"EastEu","x":2003.893,"v":13.4},{"s":"EastEu","x":2003.964,"v":15.1},{"s":"EastEu","x":2004.036,"v":15.1},{"s":"EastEu","x":2004.093,"v":14.1},{"s":"EastEu","x":2004.164,"v":14.9},{"s":"EastEu","x":2004.25,"v":16.1},{"s":"EastEu","x":2004.321,"v":15.4},{"s":"EastEu","x":2004.393,"v":14.6},{"s":"EastEu","x":2004.464,"v":13.6},{"s":"EastEu","x":2004.536,"v":13.9},{"s":"EastEu","x":2004.607,"v":14.4},{"s":"EastEu","x":2004.679,"v":13.9},{"s":"EastEu","x":2004.736,"v":15.6},{"s":"EastEu","x":2004.786,"v":13.4},{"s":"EastEu","x":2004.857,"v":12.4},{"s":"EastEu","x":2004.929,"v":12.4},{"s":"EastEu","x":2005.0,"v":12.4},{"s":"EastEu","x":2005.071,"v":12.6},{"s":"EastEu","x":2005.143,"v":14.4},{"s":"EastEu","x":2005.214,"v":14.9},{"s":"EastEu","x":2005.286,"v":16.3},{"s":"EastEu","x":2005.336,"v":16.8},{"s":"EastEu","x":2005.393,"v":14.4},{"s":"EastEu","x":2005.464,"v":15.4},{"s":"EastEu","x":2005.536,"v":15.4},{"s":"EastEu","x":2005.607,"v":15.8},{"s":"EastEu","x":2005.664,"v":16.3},{"s":"EastEu","x":2005.736,"v":13.1},{"s":"EastEu","x":2005.807,"v":17.3},{"s":"EastEu","x":2005.879,"v":19.5},{"s":"EastEu","x":2005.95,"v":19.0},{"s":"EastEu","x":2006.036,"v":19.8},{"s":"EastEu","x":2006.107,"v":18.8},{"s":"EastEu","x":2006.179,"v":18.1},{"s":"EastEu","x":2006.25,"v":17.8},{"s":"EastEu","x":2006.336,"v":17.1},{"s":"EastEu","x":2006.407,"v":21.5},{"s":"EastEu","x":2006.479,"v":21.0},{"s":"EastEu","x":2006.55,"v":20.5},{"s":"EastEu","x":2006.621,"v":20.0},{"s":"EastEu","x":2006.714,"v":19.3},{"s":"EastEu","x":2006.786,"v":19.0},{"s":"EastEu","x":2006.879,"v":19.0},{"s":"EastEu","x":2006.964,"v":18.5},{"s":"EastEu","x":2007.036,"v":18.8},{"s":"EastEu","x":2007.107,"v":18.5},{"s":"EastEu","x":2007.214,"v":18.3},{"s":"EastEu","x":2007.321,"v":18.1},{"s":"EastEu","x":2007.436,"v":18.1},
 {"s":"Asia","x":2001.979,"v":8.9},{"s":"Asia","x":2002.036,"v":9.0},{"s":"Asia","x":2002.107,"v":9.2},{"s":"Asia","x":2002.179,"v":10.2},{"s":"Asia","x":2002.25,"v":9.7},{"s":"Asia","x":2002.321,"v":10.7},{"s":"Asia","x":2002.393,"v":11.2},{"s":"Asia","x":2002.464,"v":11.7},{"s":"Asia","x":2002.536,"v":12.2},{"s":"Asia","x":2002.607,"v":12.7},{"s":"Asia","x":2002.679,"v":12.9},{"s":"Asia","x":2002.75,"v":13.1},{"s":"Asia","x":2002.821,"v":13.9},{"s":"Asia","x":2002.893,"v":14.6},{"s":"Asia","x":2002.964,"v":15.3},{"s":"Asia","x":2003.036,"v":15.4},{"s":"Asia","x":2003.143,"v":15.4},{"s":"Asia","x":2003.236,"v":15.3},{"s":"Asia","x":2003.321,"v":14.9},{"s":"Asia","x":2003.393,"v":15.4},{"s":"Asia","x":2003.479,"v":15.1},{"s":"Asia","x":2003.571,"v":15.1},{"s":"Asia","x":2003.643,"v":14.6},{"s":"Asia","x":2003.714,"v":14.4},{"s":"Asia","x":2003.786,"v":14.4},{"s":"Asia","x":2003.857,"v":13.6},{"s":"Asia","x":2003.929,"v":13.1},{"s":"Asia","x":2004.0,"v":13.6},{"s":"Asia","x":2004.071,"v":13.9},{"s":"Asia","x":2004.143,"v":14.1},{"s":"Asia","x":2004.214,"v":13.9},{"s":"Asia","x":2004.286,"v":14.1},{"s":"Asia","x":2004.357,"v":13.6},{"s":"Asia","x":2004.429,"v":11.9},{"s":"Asia","x":2004.536,"v":11.4},{"s":"Asia","x":2004.643,"v":11.7},{"s":"Asia","x":2004.75,"v":12.2},{"s":"Asia","x":2004.857,"v":12.4},{"s":"Asia","x":2004.929,"v":12.9},{"s":"Asia","x":2005.0,"v":12.4},{"s":"Asia","x":2005.071,"v":11.9},{"s":"Asia","x":2005.179,"v":11.7},{"s":"Asia","x":2005.286,"v":11.7},{"s":"Asia","x":2005.393,"v":11.7},{"s":"Asia","x":2005.464,"v":12.2},{"s":"Asia","x":2005.571,"v":12.4},{"s":"Asia","x":2005.664,"v":12.9},{"s":"Asia","x":2005.736,"v":12.0},{"s":"Asia","x":2005.821,"v":11.9},{"s":"Asia","x":2005.907,"v":11.4},{"s":"Asia","x":2006.0,"v":11.7},{"s":"Asia","x":2006.071,"v":11.4},{"s":"Asia","x":2006.143,"v":11.2},{"s":"Asia","x":2006.25,"v":11.4},{"s":"Asia","x":2006.393,"v":12.4},{"s":"Asia","x":2006.5,"v":12.7},{"s":"Asia","x":2006.607,"v":12.5},{"s":"Asia","x":2006.714,"v":12.3},{"s":"Asia","x":2006.821,"v":12.7},{"s":"Asia","x":2006.929,"v":13.4},{"s":"Asia","x":2007.036,"v":14.4},{"s":"Asia","x":2007.107,"v":15.1},{"s":"Asia","x":2007.164,"v":16.1},{"s":"Asia","x":2007.236,"v":16.1},{"s":"Asia","x":2007.307,"v":15.1},{"s":"Asia","x":2007.379,"v":16.3},{"s":"Asia","x":2007.436,"v":16.6},
 {"s":"LatAm","x":2001.979,"v":-6.3},{"s":"LatAm","x":2002.036,"v":-6.4},{"s":"LatAm","x":2002.107,"v":-5.5},{"s":"LatAm","x":2002.179,"v":-6.0},{"s":"LatAm","x":2002.236,"v":-5.5},{"s":"LatAm","x":2002.286,"v":-3.3},{"s":"LatAm","x":2002.321,"v":0.1},{"s":"LatAm","x":2002.393,"v":2.6},{"s":"LatAm","x":2002.464,"v":4.1},{"s":"LatAm","x":2002.536,"v":2.6},{"s":"LatAm","x":2002.593,"v":5.0},{"s":"LatAm","x":2002.664,"v":6.0},{"s":"LatAm","x":2002.736,"v":5.5},{"s":"LatAm","x":2002.786,"v":7.0},{"s":"LatAm","x":2002.857,"v":8.5},{"s":"LatAm","x":2002.929,"v":10.4},{"s":"LatAm","x":2003.0,"v":13.1},{"s":"LatAm","x":2003.071,"v":13.1},{"s":"LatAm","x":2003.143,"v":9.9},{"s":"LatAm","x":2003.214,"v":10.2},{"s":"LatAm","x":2003.264,"v":8.5},{"s":"LatAm","x":2003.321,"v":6.0},{"s":"LatAm","x":2003.379,"v":4.1},{"s":"LatAm","x":2003.45,"v":3.1},{"s":"LatAm","x":2003.514,"v":4.5},{"s":"LatAm","x":2003.571,"v":5.0},{"s":"LatAm","x":2003.621,"v":2.6},{"s":"LatAm","x":2003.664,"v":0.6},{"s":"LatAm","x":2003.714,"v":2.1},{"s":"LatAm","x":2003.764,"v":3.6},{"s":"LatAm","x":2003.821,"v":5.5},{"s":"LatAm","x":2003.879,"v":4.8},{"s":"LatAm","x":2003.929,"v":4.1},{"s":"LatAm","x":2003.979,"v":2.7},{"s":"LatAm","x":2004.036,"v":2.6},{"s":"LatAm","x":2004.093,"v":2.8},{"s":"LatAm","x":2004.143,"v":6.5},{"s":"LatAm","x":2004.214,"v":8.5},{"s":"LatAm","x":2004.286,"v":10.4},{"s":"LatAm","x":2004.357,"v":12.4},{"s":"LatAm","x":2004.407,"v":13.4},{"s":"LatAm","x":2004.464,"v":11.9},{"s":"LatAm","x":2004.536,"v":13.1},{"s":"LatAm","x":2004.607,"v":13.9},{"s":"LatAm","x":2004.664,"v":15.1},{"s":"LatAm","x":2004.714,"v":15.4},{"s":"LatAm","x":2004.764,"v":14.9},{"s":"LatAm","x":2004.807,"v":13.1},{"s":"LatAm","x":2004.857,"v":15.4},{"s":"LatAm","x":2004.907,"v":16.8},{"s":"LatAm","x":2004.964,"v":18.3},{"s":"LatAm","x":2005.021,"v":19.3},{"s":"LatAm","x":2005.071,"v":20.8},{"s":"LatAm","x":2005.121,"v":20.0},{"s":"LatAm","x":2005.179,"v":19.8},{"s":"LatAm","x":2005.25,"v":19.5},{"s":"LatAm","x":2005.321,"v":19.3},{"s":"LatAm","x":2005.393,"v":18.5},{"s":"LatAm","x":2005.464,"v":20.3},{"s":"LatAm","x":2005.536,"v":19.9},{"s":"LatAm","x":2005.607,"v":18.8},{"s":"LatAm","x":2005.664,"v":18.5},{"s":"LatAm","x":2005.714,"v":18.8},{"s":"LatAm","x":2005.786,"v":19.8},{"s":"LatAm","x":2005.857,"v":21.2},{"s":"LatAm","x":2005.929,"v":21.5},{"s":"LatAm","x":2006.0,"v":21.5},{"s":"LatAm","x":2006.071,"v":20.8},{"s":"LatAm","x":2006.143,"v":21.7},{"s":"LatAm","x":2006.193,"v":22.5},{"s":"LatAm","x":2006.25,"v":24.2},{"s":"LatAm","x":2006.321,"v":24.0},{"s":"LatAm","x":2006.379,"v":25.4},{"s":"LatAm","x":2006.45,"v":25.2},{"s":"LatAm","x":2006.5,"v":25.9},{"s":"LatAm","x":2006.55,"v":27.1},{"s":"LatAm","x":2006.607,"v":28.6},{"s":"LatAm","x":2006.664,"v":29.4},{"s":"LatAm","x":2006.736,"v":29.1},{"s":"LatAm","x":2006.807,"v":28.6},{"s":"LatAm","x":2006.879,"v":29.6},{"s":"LatAm","x":2006.95,"v":30.1},{"s":"LatAm","x":2007.036,"v":30.8},{"s":"LatAm","x":2007.093,"v":32.1},{"s":"LatAm","x":2007.164,"v":33.8},{"s":"LatAm","x":2007.214,"v":33.0},{"s":"LatAm","x":2007.264,"v":32.3},{"s":"LatAm","x":2007.321,"v":32.8},{"s":"LatAm","x":2007.379,"v":33.0},{"s":"LatAm","x":2007.436,"v":32.5}
 ]
},
"spacing":42,
"resolve":{"scale":{"color":"independent"}},
"vconcat":[
{"spacing":28,"resolve":{"scale":{"color":"independent"}},"hconcat":[
 {"width":274,"height":287,
  "title":{"text":["Emerging Market Financing","(billions of U.S. dollars)"],"dx":9,"dy":43},
  "layer":[
   {"data":{"name":"p1"},"mark":{"type":"bar","color":"#0b5dab"},
    "encoding":{
     "x":{"field":"d","type":"temporal","timeUnit":"utcyearmonth","scale":{"domain":[{"year":2001,"month":10,"date":23,"utc":true},{"year":2007,"month":10,"date":21,"utc":true}],"nice":false},
      "axis":{"orient":"bottom","title":null,"domain":false,"ticks":false,"values":[{"year":2002,"month":7,"date":2,"utc":true},{"year":2003,"month":7,"date":2,"utc":true},{"year":2004,"month":7,"date":2,"utc":true},{"year":2005,"month":7,"date":2,"utc":true},{"year":2006,"month":7,"date":2,"utc":true},{"year":2007,"month":8,"date":12,"utc":true}],"labelPadding":10,"labelExpr":"utcyear(datum.value)==2002?'2002':utcmonth(datum.value)==7?['Aug.','07']:'0'+(utcyear(datum.value)-2000)"}},
     "y":{"field":"v","type":"quantitative","scale":{"domain":[0,70],"nice":false},
      "axis":{"orient":"left","title":null,"domain":false,"values":[0,5,10,15,20,25,30,35,40,45,50,55,60,65,70],"tickSize":{"condition":{"test":"datum.value % 10 != 0","value":-4},"value":-7},"labelPadding":11,"labelExpr":"datum.value % 10 == 0 ? '' + datum.value : ''"}}
    }},
   {"data":{"values":[{"base":0}]},"mark":{"type":"rule","color":"#333333","strokeWidth":1.3},
    "encoding":{"y":{"field":"base","type":"quantitative","scale":{"domain":[0,70],"nice":false},
      "axis":{"orient":"right","title":null,"domain":false,"labels":false,"values":[0,5,10,15,20,25,30,35,40,45,50,55,60,65,70],"tickSize":{"condition":{"test":"datum.value % 10 != 0","value":-4},"value":-7}}}}}
  ],
  "resolve":{"axis":{"y":"independent"}}
 },
 {"width":253,"height":287,
  "title":{"text":["Interest Rate Spreads","(basis points)"],"dx":11,"dy":43},
  "layer":[
   {"data":{"name":"p2"},"mark":{"type":"line","strokeWidth":2.5},
    "encoding":{
     "x":{"field":"x","type":"quantitative","scale":{"domain":[2001.796,2008.012],"nice":false,"zero":false},
      "axis":{"orient":"bottom","title":null,"domain":true,"ticks":true,"labels":false,"values":[2002,2003,2004,2005,2006,2007],"tickSize":-6}},
     "y":{"field":"v","type":"quantitative","scale":{"domain":[0,1200],"nice":false},
      "axis":{"orient":"left","title":null,"domain":false,"labels":false,"values":[0,100,200,300,400,500,600,700,800,900,1000,1100,1200],"tickSize":{"condition":{"test":"datum.value % 200 != 0","value":-4},"value":-7}}},
     "color":{"field":"s","type":"nominal","scale":{"domain":["AAA","HY","EMBI"],"range":["#fbb54e","#c8193c","#0b5dab"]},"legend":null}
    }},
   {"data":{"values":[{"t":"High-yield\nspread","x":2006.76,"v":464},{"t":"EMBI+","x":2005.52,"v":182},{"t":"AAA spread","x":2003.33,"v":81}]},
    "mark":{"type":"text","align":"center","baseline":"middle"},
    "encoding":{
     "x":{"field":"x","type":"quantitative","scale":{"domain":[2001.796,2008.012],"nice":false,"zero":false},
      "axis":{"orient":"bottom","title":null,"domain":false,"ticks":false,"values":[2002.5,2003.5,2004.5,2005.5,2006.5,2007.81],"labelPadding":10,"labelExpr":"datum.value < 2003 ? '2002' : datum.value > 2007 ? ['Oct. 5,','07'] : '0' + floor(datum.value - 2000)"}},
     "y":{"field":"v","type":"quantitative","scale":{"domain":[0,1200],"nice":false},
      "axis":{"orient":"right","title":null,"domain":false,"values":[0,100,200,300,400,500,600,700,800,900,1000,1100,1200],"tickSize":{"condition":{"test":"datum.value % 200 != 0","value":-4},"value":-7},"labelPadding":12,"labelExpr":"datum.value % 200 == 0 ? '' + datum.value : ''"}},
     "text":{"field":"t"}
    }}
  ],
  "resolve":{"axis":{"x":"independent","y":"independent"}}
 }
]},
{"spacing":28,"resolve":{"scale":{"color":"independent"}},"hconcat":[
 {"width":268,"height":287,
  "title":{"text":["Comovement of Spreads¹"],"dx":11,"dy":23},
  "layer":[
   {"data":{"name":"p3"},"mark":{"type":"line","strokeWidth":2.6,"color":"#0b5dab"},
    "encoding":{
     "x":{"field":"x","type":"quantitative","scale":{"domain":[2001.767,2008.0],"nice":false,"zero":false},
      "axis":{"orient":"bottom","title":null,"domain":true,"ticks":true,"labels":false,"values":[2002,2003,2004,2005,2006,2007],"tickSize":-6}},
     "y":{"field":"v","type":"quantitative","scale":{"domain":[0,0.6],"nice":false},
      "axis":{"orient":"left","title":null,"domain":false,"values":[0,0.05,0.1,0.15,0.2,0.25,0.3,0.35,0.4,0.45,0.5,0.55,0.6],"tickSize":{"condition":{"test":"round(datum.value*100) % 10 != 0","value":-4},"value":-7},"labelPadding":11,"labelExpr":"round(datum.value*100) % 10 == 0 ? format(datum.value, '.1f') : ''"}}
    }},
   {"data":{"values":[{}]},"mark":{"type":"rule","strokeOpacity":0},
    "encoding":{"y":{"datum":0,"type":"quantitative","scale":{"domain":[0,0.6],"nice":false},
      "axis":{"orient":"right","title":null,"domain":false,"labels":false,"values":[0,0.05,0.1,0.15,0.2,0.25,0.3,0.35,0.4,0.45,0.5,0.55,0.6],"tickSize":{"condition":{"test":"round(datum.value*100) % 10 != 0","value":-4},"value":-7}}}}},
   {"data":{"values":[{}]},"mark":{"type":"rule","strokeOpacity":0},
    "encoding":{"x":{"datum":2005,"type":"quantitative","scale":{"domain":[2001.767,2008.0],"nice":false,"zero":false},
      "axis":{"orient":"bottom","title":null,"domain":false,"ticks":false,"values":[2002.49,2003.49,2004.49,2005.49,2006.49,2007.674],"labelPadding":10,"labelExpr":"datum.value < 2003 ? '2002' : datum.value > 2007 ? ['Oct. 5,','07'] : '0' + floor(datum.value - 2000)"}}}}
  ],
  "resolve":{"axis":{"x":"independent","y":"independent"}}
 },
 {"width":261,"height":287,
  "title":{"text":["Emerging Equity Markets","(2001 = 100;","national currency)"],"dx":13,"dy":66},
  "layer":[
   {"data":{"values":[{"ref":100}]},"mark":{"type":"rule","color":"#111111","strokeWidth":1},
    "encoding":{
     "y":{"field":"ref","type":"quantitative","scale":{"domain":[0,600],"nice":false},
      "axis":{"orient":"right","title":null,"domain":false,"values":[0,50,100,150,200,250,300,350,400,450,500,550,600],"tickSize":{"condition":{"test":"datum.value % 100 != 0","value":-4},"value":-7},"labelPadding":12,"labelExpr":"datum.value % 100 == 0 ? '' + datum.value : ''"}}
    }},
   {"data":{"name":"p4"},"mark":{"type":"line","strokeWidth":2.5},
    "encoding":{
     "x":{"field":"x","type":"quantitative","scale":{"domain":[2001.796,2007.914],"nice":false,"zero":false},
      "axis":{"orient":"bottom","title":null,"domain":true,"ticks":true,"labels":false,"values":[2002,2003,2004,2005,2006,2007],"tickSize":-6}},
     "y":{"field":"v","type":"quantitative","scale":{"domain":[0,600],"nice":false},
      "axis":{"orient":"left","title":null,"domain":false,"labels":false,"values":[0,50,100,150,200,250,300,350,400,450,500,550,600],"tickSize":{"condition":{"test":"datum.value % 100 != 0","value":-4},"value":-7}}},
     "color":{"field":"s","type":"nominal","scale":{"domain":["EastEu","LatAm","Asia"],"range":["#fbb54e","#c8193c","#0b5dab"]},"legend":null}
    }},
   {"data":{"values":[{"t":"Eastern\nEurope","x":2006.65,"v":521},{"t":"Latin\nAmerica","x":2004.97,"v":356},{"t":"Asia","x":2006.84,"v":154}]},
    "mark":{"type":"text","align":"center","baseline":"middle"},
    "encoding":{
     "x":{"field":"x","type":"quantitative","scale":{"domain":[2001.796,2007.914],"nice":false,"zero":false},
      "axis":{"orient":"bottom","title":null,"domain":false,"ticks":false,"values":[2002.5,2003.5,2004.5,2005.5,2006.5,2007.914],"labelPadding":10,"labelExpr":"datum.value < 2003 ? '2002' : datum.value > 2007 ? ['Sep.','07'] : '0' + floor(datum.value - 2000)"}},
     "y":{"field":"v","type":"quantitative","scale":{"domain":[0,600],"nice":false},"axis":null},
     "text":{"field":"t"}
    }},
   {"data":{"values":[{"x":2004.98,"v":310,"x2":2005.69,"v2":235}]},
    "mark":{"type":"rule","color":"#111111","strokeWidth":1},
    "encoding":{
     "x":{"field":"x","type":"quantitative","scale":{"domain":[2001.796,2007.914],"nice":false,"zero":false},"axis":null},
     "x2":{"field":"x2"},
     "y":{"field":"v","type":"quantitative","scale":{"domain":[0,600],"nice":false},"axis":null},
     "y2":{"field":"v2"}
    }}
  ],
  "resolve":{"axis":{"x":"independent","y":"independent"}}
 }
]},
{"spacing":23,"resolve":{"scale":{"color":"independent"}},"hconcat":[
 {"width":271,"height":287,
  "title":{"text":["Short-Term Interest Rates","(percent)"],"dx":11,"dy":36},
  "layer":[
   {"data":{"name":"p5"},"mark":{"type":"line","strokeWidth":2.5},
    "encoding":{
     "x":{"field":"x","type":"quantitative","scale":{"domain":[2001.8,2007.822],"nice":false,"zero":false},
      "axis":{"orient":"bottom","title":null,"domain":true,"ticks":true,"labels":false,"values":[2002,2003,2004,2005,2006,2007],"tickSize":-6}},
     "y":{"field":"v","type":"quantitative","scale":{"domain":[0,25],"nice":false},
      "axis":{"orient":"left","title":null,"domain":false,"values":[0,2.5,5,7.5,10,12.5,15,17.5,20,22.5,25],"tickSize":{"condition":{"test":"datum.value % 5 != 0","value":-4},"value":-7},"labelPadding":11,"labelExpr":"datum.value % 5 == 0 ? '' + datum.value : ''"}},
     "color":{"field":"s","type":"nominal","scale":{"domain":["EastEu","Asia","LatAm"],"range":["#fbb54e","#c8193c","#0b5dab"]},"legend":null}
    }},
   {"data":{"values":[{"t":"Latin\nAmerica","x":2003.7,"v":18.7},{"t":"Eastern\nEurope","x":2003.0,"v":7.97},{"t":"Asia","x":2002.815,"v":2.67}]},
    "mark":{"type":"text","align":"center","baseline":"middle"},
    "encoding":{
     "x":{"field":"x","type":"quantitative","scale":{"domain":[2001.8,2007.822],"nice":false,"zero":false},
      "axis":{"orient":"bottom","title":null,"domain":false,"ticks":false,"values":[2002.48,2003.48,2004.48,2005.48,2006.48,2007.711],"labelPadding":8,"labelLineHeight":21,"labelExpr":"datum.value < 2003 ? '2002' : datum.value > 2007 ? ['Sep.','07'] : '0' + floor(datum.value - 2000)"}},
     "y":{"field":"v","type":"quantitative","scale":{"domain":[0,25],"nice":false},
      "axis":{"orient":"right","title":null,"domain":false,"labels":false,"values":[0,2.5,5,7.5,10,12.5,15,17.5,20,22.5,25],"tickSize":{"condition":{"test":"datum.value % 5 != 0","value":-4},"value":-7}}},
     "text":{"field":"t"}
    }}
  ],
  "resolve":{"axis":{"x":"independent","y":"independent"}}
 },
 {"width":271,"height":287,
  "title":{"text":["Private Credit Growth","(percent change from","a year ago)"],"dx":14,"dy":57},
  "layer":[
   {"data":{"values":[{"ref":0}]},"mark":{"type":"rule","color":"#111111","strokeWidth":1},
    "encoding":{
     "y":{"field":"ref","type":"quantitative","scale":{"domain":[-7,35],"nice":false,"zero":false},
      "axis":{"orient":"right","title":null,"domain":false,"values":[-7,-3.5,0,3.5,7,10.5,14,17.5,21,24.5,28,31.5,35],"tickSize":{"condition":{"test":"datum.value % 7 != 0","value":-4},"value":-7},"labelPadding":12,"labelExpr":"datum.value % 7 == 0 ? '' + datum.value : ''"}}
    }},
   {"data":{"name":"p6"},"mark":{"type":"line","strokeWidth":2.5},
    "encoding":{
     "x":{"field":"x","type":"quantitative","scale":{"domain":[2001.779,2007.585],"nice":false,"zero":false},
      "axis":{"orient":"bottom","title":null,"domain":true,"ticks":true,"labels":false,"values":[2002,2003,2004,2005,2006,2007],"tickSize":-6}},
     "y":{"field":"v","type":"quantitative","scale":{"domain":[-7,35],"nice":false,"zero":false},
      "axis":{"orient":"left","title":null,"domain":false,"labels":false,"values":[-7,-3.5,0,3.5,7,10.5,14,17.5,21,24.5,28,31.5,35],"tickSize":{"condition":{"test":"datum.value % 7 != 0","value":-4},"value":-7}}},
     "color":{"field":"s","type":"nominal","scale":{"domain":["EastEu","Asia","LatAm"],"range":["#fbb54e","#c8193c","#0b5dab"]},"legend":null}
    }},
   {"data":{"values":[{"t":"Latin\nAmerica","x":2005.53,"v":25.05},{"t":"Asia","x":2003.24,"v":17.2},{"t":"Eastern\nEurope","x":2005.12,"v":3.0}]},
    "mark":{"type":"text","align":"center","baseline":"middle"},
    "encoding":{
     "x":{"field":"x","type":"quantitative","scale":{"domain":[2001.779,2007.585],"nice":false,"zero":false},
      "axis":{"orient":"bottom","title":null,"domain":false,"ticks":false,"values":[2002.5,2003.5,2004.5,2005.5,2006.5,2007.5],"labelPadding":8,"labelLineHeight":21,"labelOffset":{"condition":{"test":"datum.value > 2007","value":7},"value":0},"labelExpr":"datum.value < 2003 ? '2002' : datum.value > 2007 ? ['Jun.','07'] : '0' + floor(datum.value - 2000)"}},
     "y":{"field":"v","type":"quantitative","scale":{"domain":[-7,35],"nice":false,"zero":false},"axis":null},
     "text":{"field":"t"}
    }},
   {"data":{"values":[{"x":2003.75,"v":11.5,"x2":2005.14,"v2":6.35}]},
    "mark":{"type":"rule","color":"#111111","strokeWidth":1},
    "encoding":{
     "x":{"field":"x","type":"quantitative","scale":{"domain":[2001.779,2007.585],"nice":false,"zero":false},"axis":null},
     "x2":{"field":"x2"},
     "y":{"field":"v","type":"quantitative","scale":{"domain":[-7,35],"nice":false,"zero":false},"axis":null},
     "y2":{"field":"v2"}
    }}
  ],
  "resolve":{"axis":{"x":"independent","y":"independent"}}
 }
]}
]
}
